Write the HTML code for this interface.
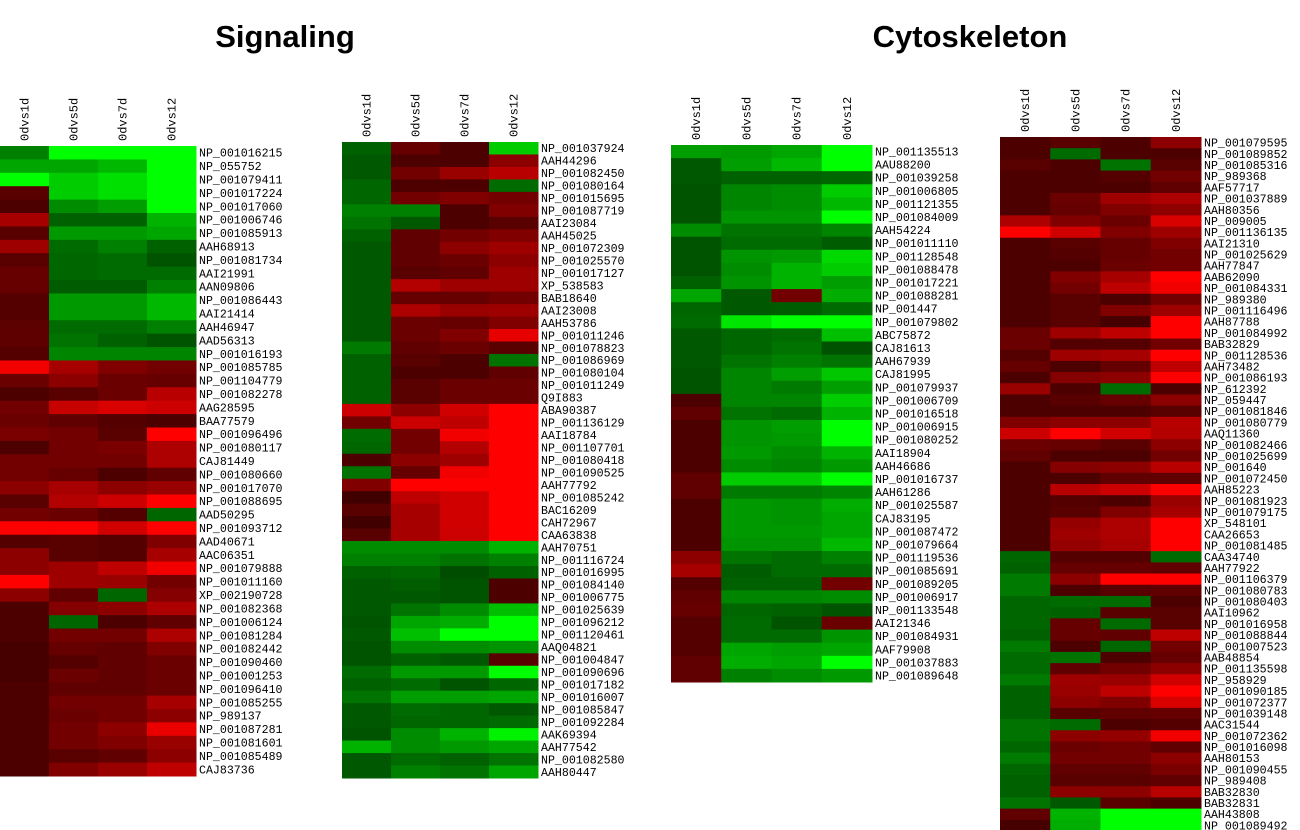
<!DOCTYPE html>
<html><head><meta charset="utf-8"><style>
body{margin:0;background:#fff;width:1300px;height:830px;overflow:hidden}
svg{display:block}
.t{font-family:"Liberation Sans",sans-serif;font-weight:bold;font-size:31px}
.lab{font-family:"Liberation Mono",monospace;font-size:11.6px}
.hdr{font-family:"Liberation Mono",monospace;font-size:12px}
</style></head><body>
<svg id="chart" width="1300" height="830">
<text class="t" x="285" y="47" text-anchor="middle">Signaling</text>
<text class="t" x="970" y="47" text-anchor="middle">Cytoskeleton</text>
</svg>
<script>
const columns=["0dvs1d","0dvs5d","0dvs7d","0dvs12"];
const labelsA=["NP_001016215","NP_055752","NP_001079411","NP_001017224","NP_001017060","NP_001006746","NP_001085913","AAH68913","NP_001081734","AAI21991","AAN09806","NP_001086443","AAI21414","AAH46947","AAD56313","NP_001016193","NP_001085785","NP_001104779","NP_001082278","AAG28595","BAA77579","NP_001096496","NP_001080117","CAJ81449","NP_001080660","NP_001017070","NP_001088695","AAD50295","NP_001093712","AAD40671","AAC06351","NP_001079888","NP_001011160","XP_002190728","NP_001082368","NP_001006124","NP_001081284","NP_001082442","NP_001090460","NP_001001253","NP_001096410","NP_001085255","NP_989137","NP_001087281","NP_001081601","NP_001085489","CAJ83736"];
const valuesA=[[-0.5,-1,-1,-1],[-0.65,-0.65,-0.72,-1],[-1,-0.8,-0.88,-1],[0.35,-0.8,-0.88,-1],[0.3,-0.55,-0.62,-1],[0.65,-0.38,-0.38,-0.7],[0.35,-0.6,-0.6,-0.65],[0.62,-0.42,-0.5,-0.38],[0.35,-0.4,-0.42,-0.33],[0.4,-0.4,-0.42,-0.42],[0.4,-0.36,-0.36,-0.5],[0.33,-0.6,-0.6,-0.72],[0.33,-0.6,-0.6,-0.72],[0.37,-0.42,-0.42,-0.5],[0.37,-0.45,-0.38,-0.33],[0.33,-0.52,-0.52,-0.52],[0.95,0.65,0.5,0.45],[0.42,0.55,0.42,0.4],[0.3,0.35,0.42,0.72],[0.45,0.78,0.85,0.8],[0.42,0.38,0.33,0.3],[0.48,0.45,0.35,1],[0.3,0.45,0.48,0.68],[0.45,0.45,0.45,0.68],[0.45,0.4,0.3,0.38],[0.55,0.65,0.55,0.6],[0.35,0.7,0.8,1],[0.45,0.42,0.33,-0.4],[1,1,0.82,1],[0.33,0.35,0.33,0.5],[0.55,0.35,0.33,0.65],[0.55,0.62,0.75,0.95],[1,0.62,0.6,0.45],[0.55,0.38,-0.4,0.52],[0.3,0.52,0.55,0.68],[0.3,-0.4,0.3,0.38],[0.3,0.45,0.45,0.68],[0.28,0.4,0.38,0.5],[0.28,0.33,0.38,0.42],[0.28,0.42,0.38,0.42],[0.3,0.38,0.38,0.42],[0.3,0.45,0.45,0.65],[0.3,0.42,0.45,0.55],[0.3,0.45,0.55,0.92],[0.3,0.45,0.5,0.6],[0.3,0.35,0.38,0.55],[0.3,0.5,0.6,0.75]];
const labelsB=["NP_001037924","AAH44296","NP_001082450","NP_001080164","NP_001015695","NP_001087719","AAI23084","AAH45025","NP_001072309","NP_001025570","NP_001017127","XP_538583","BAB18640","AAI23008","AAH53786","NP_001011246","NP_001078823","NP_001086969","NP_001080104","NP_001011249","Q9I883","ABA90387","NP_001136129","AAI18784","NP_001107701","NP_001080418","NP_001090525","AAH77792","NP_001085242","BAC16209","CAH72967","CAA63838","AAH70751","NP_001116724","NP_001016995","NP_001084140","NP_001006775","NP_001025639","NP_001096212","NP_001120461","AAQ04821","NP_001004847","NP_001090696","NP_001017182","NP_001016007","NP_001085847","NP_001092284","AAK69394","AAH77542","NP_001082580","AAH80447"];
const valuesB=[[-0.38,0.4,0.3,-0.8],[-0.35,0.3,0.3,0.55],[-0.35,0.45,0.6,0.72],[-0.4,0.3,0.3,-0.42],[-0.4,0.45,0.5,0.45],[-0.5,-0.5,0.3,0.5],[-0.45,-0.35,0.3,0.35],[-0.38,0.38,0.45,0.5],[-0.35,0.38,0.55,0.62],[-0.35,0.38,0.42,0.55],[-0.35,0.35,0.38,0.62],[-0.35,0.7,0.62,0.62],[-0.35,0.4,0.4,0.45],[-0.35,0.68,0.6,0.62],[-0.35,0.42,0.4,0.5],[-0.35,0.42,0.5,0.9],[-0.48,0.38,0.42,0.35],[-0.38,0.35,0.3,-0.45],[-0.38,0.3,0.3,0.38],[-0.38,0.35,0.42,0.42],[-0.38,0.35,0.42,0.42],[0.8,0.55,0.82,1],[0.45,0.8,0.75,1],[-0.42,0.45,0.95,1],[-0.4,0.45,0.7,1],[0.3,0.55,0.62,1],[-0.45,0.4,0.95,1],[0.5,1,1,1],[0.25,0.75,0.82,1],[0.35,0.65,0.82,1],[0.25,0.65,0.82,1],[0.35,0.65,0.8,1],[-0.55,-0.55,-0.55,-0.7],[-0.5,-0.5,-0.45,-0.5],[-0.38,-0.4,-0.3,-0.38],[-0.35,-0.37,-0.33,0.3],[-0.35,-0.35,-0.33,0.3],[-0.35,-0.45,-0.55,-0.75],[-0.33,-0.65,-0.68,-1],[-0.35,-0.75,-1,-1],[-0.33,-0.55,-0.55,-0.58],[-0.33,-0.38,-0.35,0.35],[-0.42,-0.6,-0.6,-1],[-0.38,-0.42,-0.33,-0.4],[-0.45,-0.62,-0.62,-0.65],[-0.35,-0.42,-0.4,-0.35],[-0.35,-0.4,-0.4,-0.42],[-0.33,-0.55,-0.7,-0.95],[-0.7,-0.55,-0.6,-0.65],[-0.35,-0.42,-0.38,-0.45],[-0.35,-0.5,-0.45,-0.65]];
const labelsC=["NP_001135513","AAU88200","NP_001039258","NP_001006805","NP_001121355","NP_001084009","AAH54224","NP_001011110","NP_001128548","NP_001088478","NP_001017221","NP_001088281","NP_001447","NP_001079802","ABC75872","CAJ81613","AAH67939","CAJ81995","NP_001079937","NP_001006709","NP_001016518","NP_001006915","NP_001080252","AAI18904","AAH46686","NP_001016737","AAH61286","NP_001025587","CAJ83195","NP_001087472","NP_001079664","NP_001119536","NP_001085691","NP_001089205","NP_001006917","NP_001133548","AAI21346","NP_001084931","AAF79908","NP_001037883","NP_001089648"];
const valuesC=[[-0.62,-0.6,-0.65,-1],[-0.35,-0.62,-0.72,-1],[-0.35,-0.38,-0.38,-0.4],[-0.33,-0.52,-0.55,-0.8],[-0.33,-0.52,-0.55,-0.72],[-0.33,-0.58,-0.58,-1],[-0.55,-0.45,-0.45,-0.52],[-0.33,-0.42,-0.42,-0.36],[-0.33,-0.58,-0.6,-0.85],[-0.33,-0.55,-0.7,-0.8],[-0.38,-0.58,-0.7,-0.62],[-0.65,-0.35,0.45,-0.68],[-0.4,-0.35,-0.36,-0.42],[-0.42,-0.9,-1,-1],[-0.35,-0.4,-0.42,-0.75],[-0.35,-0.4,-0.45,-0.32],[-0.35,-0.45,-0.5,-0.45],[-0.33,-0.52,-0.62,-0.78],[-0.33,-0.52,-0.48,-0.62],[0.3,-0.52,-0.52,-0.8],[0.38,-0.45,-0.42,-0.7],[0.3,-0.58,-0.62,-1],[0.3,-0.58,-0.6,-1],[0.3,-0.6,-0.55,-0.7],[0.3,-0.55,-0.52,-0.6],[0.38,-0.8,-0.8,-1],[0.38,-0.48,-0.48,-0.52],[0.3,-0.6,-0.58,-0.68],[0.3,-0.6,-0.58,-0.65],[0.3,-0.6,-0.6,-0.65],[0.3,-0.58,-0.58,-0.72],[0.55,-0.45,-0.42,-0.5],[0.65,-0.36,-0.42,-0.42],[0.33,-0.38,-0.38,0.45],[0.38,-0.52,-0.52,-0.55],[0.4,-0.4,-0.38,-0.33],[0.33,-0.42,-0.33,0.42],[0.33,-0.42,-0.42,-0.58],[0.33,-0.65,-0.62,-0.65],[0.38,-0.68,-0.65,-1],[0.38,-0.5,-0.55,-0.6]];
const labelsD=["NP_001079595","NP_001089852","NP_001085316","NP_989368","AAF57717","NP_001037889","AAH80356","NP_009005","NP_001136135","AAI21310","NP_001025629","AAH77847","AAB62090","NP_001084331","NP_989380","NP_001116496","AAH87788","NP_001084992","BAB32829","NP_001128536","AAH73482","NP_001086193","NP_612392","NP_059447","NP_001081846","NP_001080779","AAQ11360","NP_001082466","NP_001025699","NP_001640","NP_001072450","AAH85223","NP_001081923","NP_001079175","XP_548101","CAA26653","NP_001081485","CAA34740","AAH77922","NP_001106379","NP_001080783","NP_001080403","AAI10962","NP_001016958","NP_001088844","NP_001007523","AAB48854","NP_001135598","NP_958929","NP_001090185","NP_001072377","NP_001039148","AAC31544","NP_001072362","NP_001016098","AAH80153","NP_001090455","NP_989408","BAB32830","BAB32831","AAH43808","NP_001089492"];
const valuesD=[[0.3,0.35,0.3,0.55],[0.3,-0.42,0.3,0.3],[0.35,0.3,-0.45,0.35],[0.3,0.3,0.33,0.45],[0.3,0.3,0.3,0.38],[0.3,0.42,0.62,0.68],[0.3,0.4,0.5,0.55],[0.68,0.5,0.42,0.85],[1,0.82,0.5,0.62],[0.3,0.35,0.4,0.5],[0.3,0.33,0.4,0.45],[0.3,0.3,0.42,0.45],[0.3,0.5,0.65,1],[0.3,0.45,0.75,0.95],[0.3,0.35,0.3,0.45],[0.3,0.35,0.5,0.62],[0.3,0.35,0.28,1],[0.42,0.62,0.75,1],[0.42,0.33,0.33,0.45],[0.33,0.62,0.65,1],[0.4,0.3,0.4,0.75],[0.3,0.52,0.55,1],[0.6,0.3,-0.42,0.3],[0.3,0.35,0.4,0.55],[0.3,0.3,0.3,0.35],[0.5,0.55,0.55,0.72],[0.8,1,0.82,0.7],[0.42,0.4,0.35,0.55],[0.38,0.3,0.3,0.45],[0.3,0.52,0.55,0.72],[0.3,0.3,0.38,0.38],[0.3,0.72,0.8,1],[0.3,0.33,0.3,0.6],[0.3,0.35,0.5,0.65],[0.3,0.58,0.68,1],[0.3,0.62,0.68,1],[0.3,0.58,0.65,1],[-0.4,0.33,0.33,-0.42],[-0.38,0.4,0.4,0.38],[-0.48,0.55,1,1],[-0.48,0.3,0.35,0.38],[-0.4,-0.42,-0.42,0.3],[-0.4,-0.38,0.35,0.35],[-0.4,0.4,-0.42,0.35],[-0.38,0.4,0.38,0.75],[-0.48,0.3,-0.4,0.45],[-0.42,-0.45,0.3,0.4],[-0.42,0.38,0.45,0.55],[-0.48,0.62,0.6,0.82],[-0.38,0.6,0.75,1],[-0.38,0.55,0.5,0.85],[-0.38,0.35,0.38,0.4],[-0.45,-0.42,0.3,0.33],[-0.45,0.55,0.58,0.95],[-0.4,0.42,0.45,0.38],[-0.48,0.45,0.45,0.55],[-0.4,0.38,0.38,0.48],[-0.38,0.35,0.35,0.38],[-0.38,0.55,0.55,0.72],[-0.45,-0.35,0.35,0.3],[0.38,-0.7,-1,-1],[0.28,-0.68,-1,-1]];

const NS="http://www.w3.org/2000/svg";
const svg=document.getElementById('chart');
function color(v){const c=Math.round(Math.min(1,Math.abs(v))*255);return v>=0?`rgb(${c},0,0)`:`rgb(0,${c},0)`;}
function drawHeatmap(id,labels,values,x0,y0,x1,y1){
  const g=document.createElementNS(NS,'g');
  
  
  svg.appendChild(g);
  const cw=(x1-x0)/columns.length, rh=(y1-y0)/labels.length;
  const xs=i=>x0+i*cw, ys=j=>y0+j*rh;
  columns.forEach((c,i)=>{
    const t=document.createElementNS(NS,'text');
    t.setAttribute('class','hdr');
    const cx=xs(i)+cw/2+4, cy=y0-5;
    t.setAttribute('transform',`translate(${cx},${cy}) rotate(-90)`);
    t.textContent=c;
    
    
    g.appendChild(t);
  });
  values.forEach((row,j)=>{
    row.forEach((v,i)=>{
      const r=document.createElementNS(NS,'rect');
      r.setAttribute('x',xs(i));r.setAttribute('y',ys(j));
      r.setAttribute('width',cw+0.5);r.setAttribute('height',rh+0.5);
      r.setAttribute('fill',color(v));
      
      
      g.appendChild(r);
    });
  });
  labels.forEach((l,j)=>{
    const t=document.createElementNS(NS,'text');
    t.setAttribute('class','lab');
    t.setAttribute('x',x1+3);t.setAttribute('y',ys(j)+rh/2+4);
    t.textContent=l;
    
    
    g.appendChild(t);
  });
}
drawHeatmap('signaling-1',labelsA,valuesA,0,146,196,776);
drawHeatmap('signaling-2',labelsB,valuesB,342,142,538,778);
drawHeatmap('cytoskeleton-1',labelsC,valuesC,671,145,872,682);
drawHeatmap('cytoskeleton-2',labelsD,valuesD,1000,137,1201,831);
</script>
</body></html>
